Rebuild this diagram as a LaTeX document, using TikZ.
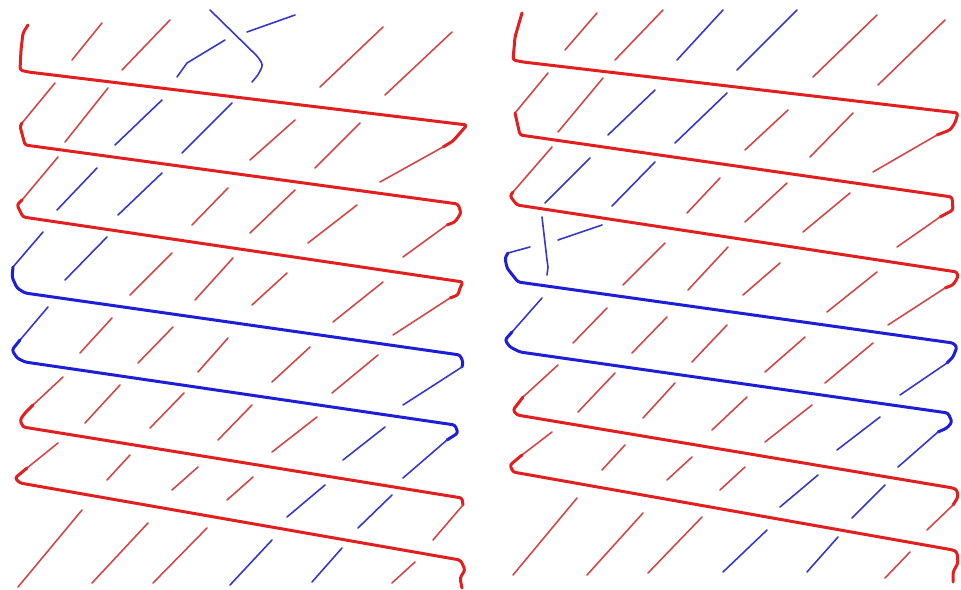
\documentclass[tikz,border=0pt]{standalone}
\definecolor{rk}{RGB}{226,30,30}
\definecolor{rt}{RGB}{210,72,72}
\definecolor{bk}{RGB}{30,30,215}
\definecolor{bt}{RGB}{55,55,200}
\tikzset{
  rthick/.style={draw=rk, line width=3pt, line cap=round, line join=round, rounded corners=2.5pt},
  bthick/.style={draw=bk, line width=3pt, line cap=round, line join=round, rounded corners=2.5pt},
  rthin/.style={draw=rt, line width=1.6pt, line cap=round, line join=round},
  bthin/.style={draw=bt, line width=1.6pt, line cap=round, line join=round}
}
\begin{document}
\begin{tikzpicture}[x=1pt,y=-1pt]
\useasboundingbox (0,0) rectangle (961,589);
% ===== LEFT PANEL: long strokes =====
\draw[rthick] (28,25) -- (23,33) -- (21,50) -- (20,70) -- (28,72) -- (467,125) -- (460,133) -- (453,141) -- (443,147);
\draw[rthin] (443,147) -- (380,182);
\draw[rthin] (55,83) -- (22,123);
\draw[rthick] (22,123) -- (20,126) -- (25,145) -- (458,204) -- (461,213) -- (455,222) -- (447,225);
\draw[rthin] (447,225) -- (403,257);
\draw[rthin] (58,157) -- (22,200);
\draw[rthick] (22,200) -- (17,205) -- (23,217) -- (463,282) -- (460,288) -- (458,295) -- (450,298);
\draw[rthin] (450,298) -- (393,335);
\draw[bthin] (43,232) -- (13,267);
\draw[bthick] (13,267) -- (12,277) -- (17,288) -- (25,293) -- (460,355) -- (463,362) -- (462,367);
\draw[bthin] (462,367) -- (403,405);
\draw[bthin] (48,307) -- (20,340);
\draw[bthick] (20,340) -- (12,350) -- (17,358) -- (25,362) -- (455,425) -- (458,433) -- (447,440);
\draw[bthin] (447,440) -- (403,478);
\draw[rthin] (63,377) -- (33,405);
\draw[rthick] (33,405) -- (25,413) -- (20,420) -- (23,427) -- (462,498) -- (463,505);
\draw[rthin] (463,505) -- (433,540);
\draw[rthin] (58,443) -- (27,468);
\draw[rthick] (27,468) -- (15,478) -- (20,483) -- (460,560) -- (462,563) -- (465,570) -- (460,578) -- (462,588);
% ===== LEFT PANEL: short strokes =====
\draw[rthin] (72,60) -- (102,23);
\draw[rthin] (122,70) -- (170,20);
\draw[rthin] (320,87) -- (383,27);
\draw[rthin] (385,95) -- (452,32);
\draw[bthin] (177,77) -- (187,63) -- (225,40);
\draw[bthin, rounded corners=3pt] (210,10) -- (258,57) -- (263,65) -- (258,75) -- (252,82);
\draw[bthin] (247,32) -- (295,15);
\draw[rthin] (65,142) -- (108,88);
\draw[bthin] (115,145) -- (162,100);
\draw[bthin] (182,153) -- (232,103);
\draw[rthin] (250,160) -- (295,120);
\draw[rthin] (315,168) -- (360,123);
\draw[bthin] (57,210) -- (97,168);
\draw[bthin] (118,215) -- (162,173);
\draw[rthin] (192,225) -- (228,188);
\draw[rthin] (250,233) -- (295,190);
\draw[rthin] (308,243) -- (357,205);
\draw[bthin] (65,280) -- (107,237);
\draw[rthin] (130,295) -- (172,253);
\draw[rthin] (195,300) -- (233,258);
\draw[rthin] (252,305) -- (287,273);
\draw[rthin] (333,322) -- (383,282);
\draw[rthin] (80,353) -- (112,318);
\draw[rthin] (138,363) -- (173,327);
\draw[rthin] (198,372) -- (228,338);
\draw[rthin] (272,382) -- (310,347);
\draw[rthin] (332,393) -- (378,355);
\draw[rthin] (85,423) -- (120,385);
\draw[rthin] (150,428) -- (184,393);
\draw[rthin] (218,440) -- (252,405);
\draw[rthin] (272,452) -- (317,417);
\draw[bthin] (343,460) -- (385,427);
\draw[rthin] (107,480) -- (130,455);
\draw[rthin] (172,490) -- (198,467);
\draw[rthin] (227,500) -- (253,477);
\draw[bthin] (287,517) -- (325,485);
\draw[bthin] (358,528) -- (392,495);
\draw[rthin] (18,587) -- (82,510);
\draw[rthin] (92,583) -- (148,523);
\draw[rthin] (153,583) -- (207,528);
\draw[bthin] (230,585) -- (272,540);
\draw[bthin] (312,582) -- (342,548);
\draw[rthin] (392,583) -- (415,562);
% ===== RIGHT PANEL: long strokes =====
\draw[rthick] (522,13) -- (515,37) -- (513,60) -- (523,62) -- (958,113) -- (955,123) -- (950,130) -- (937,135);
\draw[rthin] (937,135) -- (873,172);
\draw[rthin] (548,73) -- (515,113);
\draw[rthick] (515,113) -- (520,135) -- (952,197) -- (953,210) -- (940,217);
\draw[rthin] (940,217) -- (897,247);
\draw[rthin] (552,147) -- (513,192);
\draw[rthick] (513,192) -- (510,196) -- (517,205) -- (957,272) -- (958,277) -- (953,285) -- (945,288);
\draw[rthin] (945,288) -- (888,325);
\draw[bthin] (530,247) -- (508,253);
\draw[bthick] (508,253) -- (505,258) -- (507,268) -- (518,282) -- (953,343) -- (957,347) -- (953,357) -- (947,363);
\draw[bthin] (947,363) -- (900,395);
\draw[bthin] (542,298) -- (512,332);
\draw[bthick] (512,332) -- (505,340) -- (510,347) -- (520,352) -- (948,413) -- (952,422) -- (947,428) -- (938,432);
\draw[bthin] (938,432) -- (898,467);
\draw[rthin] (558,365) -- (523,397);
\draw[rthick] (523,397) -- (517,405) -- (513,410) -- (517,415) -- (953,488) -- (957,490) -- (958,497) -- (953,505);
\draw[rthin] (953,505) -- (927,530);
\draw[rthin] (552,432) -- (522,455);
\draw[rthick] (522,455) -- (510,465) -- (513,472) -- (953,550) -- (957,552) -- (958,563) -- (953,572) -- (953,582);
% ===== RIGHT PANEL: short strokes =====
\draw[rthin] (565,50) -- (597,13);
\draw[rthin] (615,60) -- (663,10);
\draw[bthin] (677,60) -- (723,10);
\draw[bthin] (737,70) -- (797,10);
\draw[rthin] (813,77) -- (877,15);
\draw[rthin] (878,85) -- (945,20);
\draw[rthin] (558,132) -- (603,78);
\draw[bthin] (608,135) -- (655,90);
\draw[bthin] (675,143) -- (727,93);
\draw[rthin] (745,150) -- (788,110);
\draw[rthin] (810,157) -- (853,113);
\draw[bthin] (545,203) -- (590,158);
\draw[bthin] (612,206) -- (655,162);
\draw[rthin] (687,213) -- (720,178);
\draw[rthin] (745,222) -- (787,183);
\draw[rthin] (803,232) -- (850,193);
\draw[bthin] (542,217) -- (547,260) -- (548,267) -- (547,275);
\draw[bthin] (558,240) -- (602,225);
\draw[rthin] (623,285) -- (665,243);
\draw[rthin] (688,290) -- (728,247);
\draw[rthin] (743,295) -- (780,263);
\draw[rthin] (827,312) -- (877,272);
\draw[rthin] (573,343) -- (607,308);
\draw[rthin] (632,353) -- (667,317);
\draw[rthin] (692,362) -- (727,325);
\draw[rthin] (765,372) -- (805,337);
\draw[rthin] (825,383) -- (873,343);
\draw[rthin] (578,412) -- (615,373);
\draw[rthin] (643,418) -- (675,383);
\draw[rthin] (712,430) -- (747,397);
\draw[rthin] (765,442) -- (812,405);
\draw[bthin] (837,450) -- (880,417);
\draw[rthin] (602,470) -- (625,445);
\draw[rthin] (667,480) -- (692,457);
\draw[rthin] (720,490) -- (745,467);
\draw[bthin] (780,507) -- (818,475);
\draw[bthin] (852,518) -- (885,485);
\draw[rthin] (513,575) -- (577,498);
\draw[rthin] (587,575) -- (643,513);
\draw[rthin] (648,573) -- (702,517);
\draw[bthin] (723,572) -- (767,530);
\draw[bthin] (807,572) -- (838,537);
\draw[rthin] (885,578) -- (910,552);
\end{tikzpicture}
\end{document}
